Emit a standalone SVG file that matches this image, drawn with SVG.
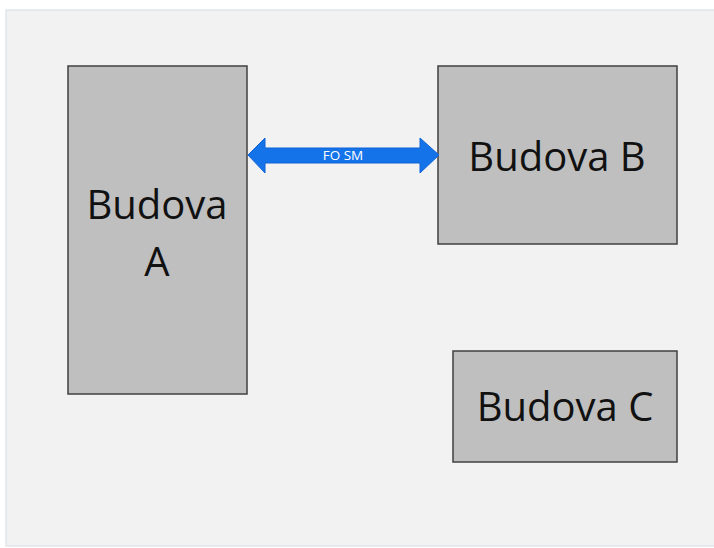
<svg xmlns="http://www.w3.org/2000/svg" width="714" height="548" viewBox="0 0 714 548">
<style>
.box{fill:#bfbfbf;stroke:#404040;stroke-width:1.5}
.lbl{font-family:"Open Sans","Noto Sans",sans-serif;font-size:40px;fill:#111;text-anchor:middle}
</style>
<rect width="714" height="548" fill="#ffffff"/>
<rect x="6" y="10" width="710" height="536" fill="#f2f2f2" stroke="#d6dbe2" stroke-width="1"/>
<g id="nodeA"><rect class="box" x="68" y="66" width="179" height="328"/><text class="lbl" x="157" y="219">Budova</text><text class="lbl" x="157" y="276">A</text></g>
<g id="nodeB"><rect class="box" x="438" y="66" width="239" height="178"/><text class="lbl" x="557" y="171">Budova B</text></g>
<g id="nodeC"><rect class="box" x="453" y="351" width="224" height="111"/><text class="lbl" x="565" y="421">Budova C</text></g>
<g id="connectors">
<polygon points="248,155 265,138 265,148 420,148 420,138 439,155 420,173 420,163 265,163 265,173" fill="#1573ea" stroke="#0f63d6" stroke-width="1"/>
<text x="343" y="160" font-family="Open Sans, Noto Sans, sans-serif" font-size="13.5" fill="#ffffff" text-anchor="middle">FO SM</text>
</g>
</svg>
